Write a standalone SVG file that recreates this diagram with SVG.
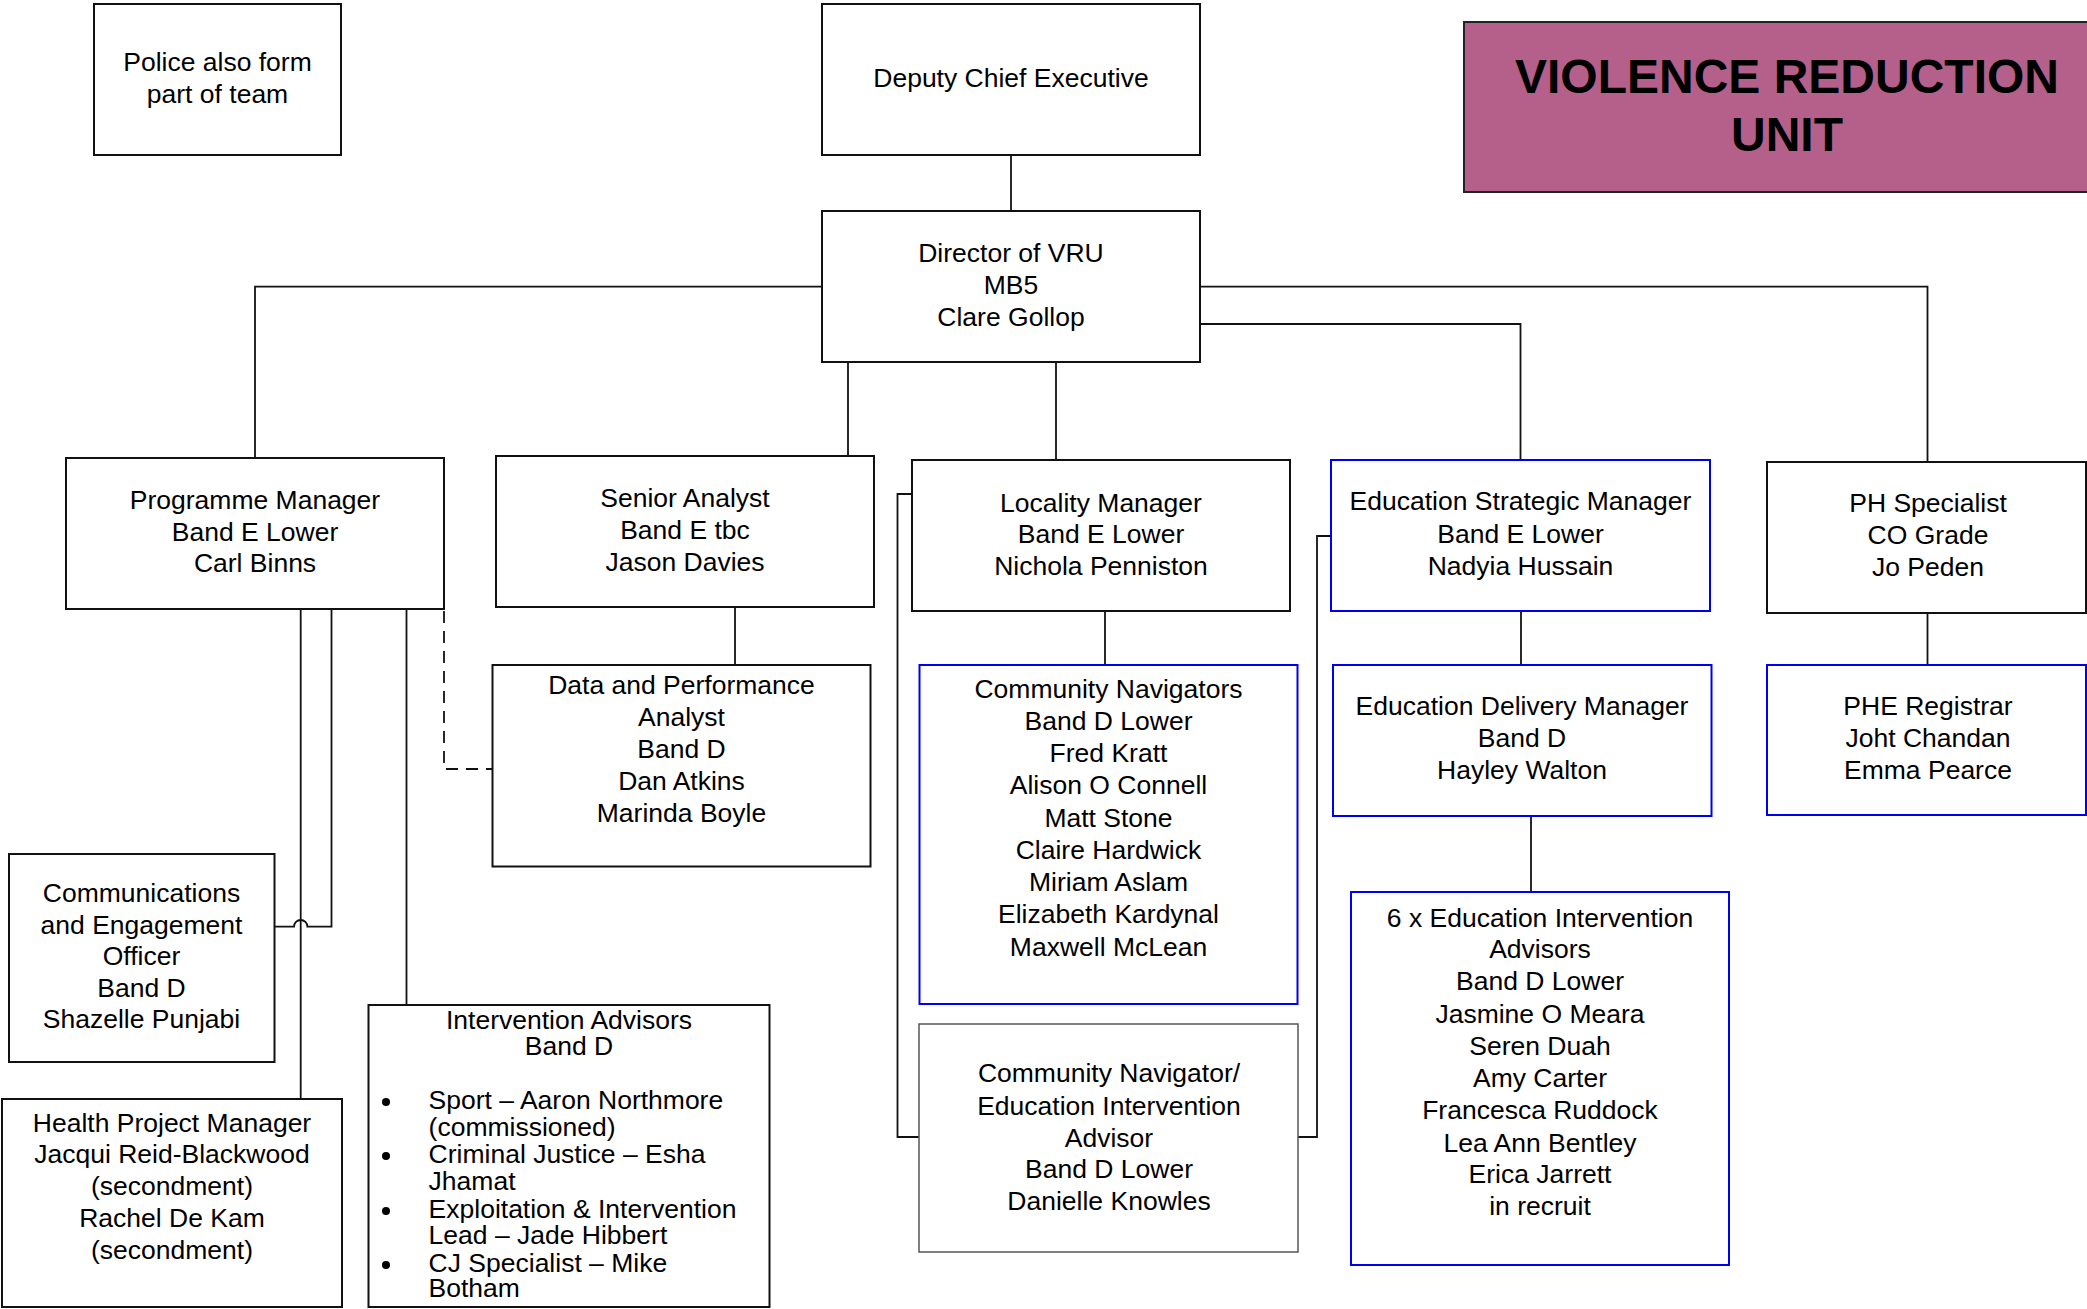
<svg xmlns="http://www.w3.org/2000/svg" width="2087" height="1309" viewBox="0 0 2087 1309">
<style>
  .box{fill:#fff;stroke:#111;stroke-width:2}
  .blue{fill:#fff;stroke:#0000f0;stroke-width:2}
  .grey{fill:#fff;stroke:#555;stroke-width:1.5}
  .title{fill:#b5608a;stroke:#222;stroke-width:2}
  text{font-family:"Liberation Sans",Arial,sans-serif;font-size:26.5px;fill:#000}
  .c{text-anchor:middle}
  .t{font-size:48px;font-weight:bold}
  .ln{fill:none;stroke:#111;stroke-width:1.8}
  .dash{fill:none;stroke:#111;stroke-width:1.8;stroke-dasharray:12 8}
</style>
<rect width="2087" height="1309" fill="#fff"/>
<g id="connectors">
  <path class="ln" d="M1011 155V211"/>
  <path class="ln" d="M822 286.7H255V458"/>
  <path class="ln" d="M1200 286.7H1927.5V462"/>
  <path class="ln" d="M1200 324H1520.5V460"/>
  <path class="ln" d="M848 362V456"/>
  <path class="ln" d="M1056 362V460"/>
  <path class="ln" d="M735 607V665"/>
  <path class="ln" d="M1105 611V665"/>
  <path class="ln" d="M912 494H897.5V1137H919"/>
  <path class="ln" d="M1331 536H1317V1137H1298"/>
  <path class="ln" d="M1521 611V665"/>
  <path class="ln" d="M1531 816V892"/>
  <path class="ln" d="M1927.5 613V665"/>
  <path class="dash" d="M444 551V769H492.5"/>
  <path class="ln" d="M274.5 926.7H294A6.7 6.7 0 0 1 307.4 926.7H331.5V609"/>
  <path class="ln" d="M300.7 609V1099"/>
  <path class="ln" d="M406.5 609V1005"/>
</g>
<g id="police">
  <rect class="box" x="94" y="4" width="247" height="151"/>
  <text class="c" x="217.5" y="71">Police also form</text>
  <text class="c" x="217.5" y="103">part of team</text>
</g>
<g id="deputy">
  <rect class="box" x="822" y="4" width="378" height="151"/>
  <text class="c" x="1011" y="87">Deputy Chief Executive</text>
</g>
<g id="title">
  <rect class="title" x="1464" y="22" width="646" height="170"/>
  <text class="c t" x="1787" y="93">VIOLENCE REDUCTION</text>
  <text class="c t" x="1787" y="151">UNIT</text>
</g>
<g id="director">
  <rect class="box" x="822" y="211" width="378" height="151"/>
  <text class="c" x="1011" y="262">Director of VRU</text>
  <text class="c" x="1011" y="294">MB5</text>
  <text class="c" x="1011" y="326">Clare Gollop</text>
</g>
<g id="programme-manager">
  <rect class="box" x="66" y="458" width="378" height="151"/>
  <text class="c" x="255" y="509">Programme Manager</text>
  <text class="c" x="255" y="541">Band E Lower</text>
  <text class="c" x="255" y="572">Carl Binns</text>
</g>
<g id="senior-analyst">
  <rect class="box" x="496" y="456" width="378" height="151"/>
  <text class="c" x="685" y="507">Senior Analyst</text>
  <text class="c" x="685" y="539">Band E tbc</text>
  <text class="c" x="685" y="571">Jason Davies</text>
</g>
<g id="locality-manager">
  <rect class="box" x="912" y="460" width="378" height="151"/>
  <text class="c" x="1101" y="512">Locality Manager</text>
  <text class="c" x="1101" y="543">Band E Lower</text>
  <text class="c" x="1101" y="575">Nichola Penniston</text>
</g>
<g id="education-strategic-manager">
  <rect class="blue" x="1331" y="460" width="379" height="151"/>
  <text class="c" x="1520.5" y="510">Education Strategic Manager</text>
  <text class="c" x="1520.5" y="543">Band E Lower</text>
  <text class="c" x="1520.5" y="575">Nadyia Hussain</text>
</g>
<g id="ph-specialist">
  <rect class="box" x="1767" y="462" width="319" height="151"/>
  <text class="c" x="1928" y="512">PH Specialist</text>
  <text class="c" x="1928" y="544">CO Grade</text>
  <text class="c" x="1928" y="576">Jo Peden</text>
</g>
<g id="data-analyst">
  <rect class="box" x="492.5" y="665" width="378" height="201.5"/>
  <text class="c" x="681.5" y="694">Data and Performance</text>
  <text class="c" x="681.5" y="726">Analyst</text>
  <text class="c" x="681.5" y="758">Band D</text>
  <text class="c" x="681.5" y="790">Dan Atkins</text>
  <text class="c" x="681.5" y="822">Marinda Boyle</text>
</g>
<g id="community-navigators">
  <rect class="blue" x="919.5" y="665" width="378" height="339"/>
  <text class="c" x="1108.5" y="698">Community Navigators</text>
  <text class="c" x="1108.5" y="730">Band D Lower</text>
  <text class="c" x="1108.5" y="762">Fred Kratt</text>
  <text class="c" x="1108.5" y="794">Alison O Connell</text>
  <text class="c" x="1108.5" y="827">Matt Stone</text>
  <text class="c" x="1108.5" y="859">Claire Hardwick</text>
  <text class="c" x="1108.5" y="891">Miriam Aslam</text>
  <text class="c" x="1108.5" y="923">Elizabeth Kardynal</text>
  <text class="c" x="1108.5" y="956">Maxwell McLean</text>
</g>
<g id="education-delivery-manager">
  <rect class="blue" x="1333" y="665" width="378.5" height="151"/>
  <text class="c" x="1522" y="715">Education Delivery Manager</text>
  <text class="c" x="1522" y="747">Band D</text>
  <text class="c" x="1522" y="779">Hayley Walton</text>
</g>
<g id="phe-registrar">
  <rect class="blue" x="1767" y="665" width="319" height="150"/>
  <text class="c" x="1928" y="715">PHE Registrar</text>
  <text class="c" x="1928" y="747">Joht Chandan</text>
  <text class="c" x="1928" y="779">Emma Pearce</text>
</g>
<g id="comms-officer">
  <rect class="box" x="9" y="854" width="265.5" height="208"/>
  <text class="c" x="141.5" y="902">Communications</text>
  <text class="c" x="141.5" y="934">and Engagement</text>
  <text class="c" x="141.5" y="965">Officer</text>
  <text class="c" x="141.5" y="997">Band D</text>
  <text class="c" x="141.5" y="1028">Shazelle Punjabi</text>
</g>
<g id="health-project-manager">
  <rect class="box" x="2" y="1099" width="340" height="208"/>
  <text class="c" x="172" y="1132">Health Project Manager</text>
  <text class="c" x="172" y="1163">Jacqui Reid-Blackwood</text>
  <text class="c" x="172" y="1195">(secondment)</text>
  <text class="c" x="172" y="1227">Rachel De Kam</text>
  <text class="c" x="172" y="1259">(secondment)</text>
</g>
<g id="intervention-advisors">
  <rect class="box" x="368.5" y="1005" width="401" height="302"/>
  <text class="c" x="569" y="1029">Intervention Advisors</text>
  <text class="c" x="569" y="1055">Band D</text>
  <circle cx="386" cy="1102" r="4"/>
  <circle cx="386" cy="1156" r="4"/>
  <circle cx="386" cy="1211" r="4"/>
  <circle cx="386" cy="1265" r="4"/>
  <text x="428.6" y="1109">Sport – Aaron Northmore</text>
  <text x="428.6" y="1136">(commissioned)</text>
  <text x="428.6" y="1163">Criminal Justice – Esha</text>
  <text x="428.6" y="1190">Jhamat</text>
  <text x="428.6" y="1218">Exploitation &amp; Intervention</text>
  <text x="428.6" y="1244">Lead – Jade Hibbert</text>
  <text x="428.6" y="1272">CJ Specialist – Mike</text>
  <text x="428.6" y="1297">Botham</text>
</g>
<g id="community-navigator-eia">
  <rect class="grey" x="919" y="1024" width="379" height="228"/>
  <text class="c" x="1109" y="1082">Community Navigator/</text>
  <text class="c" x="1109" y="1115">Education Intervention</text>
  <text class="c" x="1109" y="1147">Advisor</text>
  <text class="c" x="1109" y="1178">Band D Lower</text>
  <text class="c" x="1109" y="1210">Danielle Knowles</text>
</g>
<g id="education-intervention-advisors">
  <rect class="blue" x="1351" y="892" width="378" height="373"/>
  <text class="c" x="1540" y="927">6 x Education Intervention</text>
  <text class="c" x="1540" y="958">Advisors</text>
  <text class="c" x="1540" y="990">Band D Lower</text>
  <text class="c" x="1540" y="1023">Jasmine O Meara</text>
  <text class="c" x="1540" y="1055">Seren Duah</text>
  <text class="c" x="1540" y="1087">Amy Carter</text>
  <text class="c" x="1540" y="1119">Francesca Ruddock</text>
  <text class="c" x="1540" y="1152">Lea Ann Bentley</text>
  <text class="c" x="1540" y="1183">Erica Jarrett</text>
  <text class="c" x="1540" y="1215">in recruit</text>
</g>
</svg>
